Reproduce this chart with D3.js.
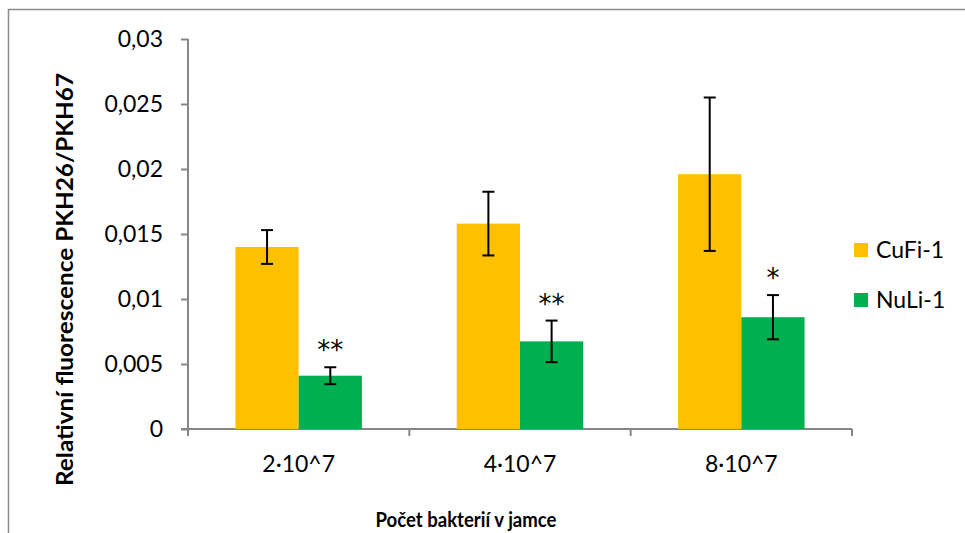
<!DOCTYPE html>
<html>
<head>
<meta charset="utf-8">
<script src="https://cdn.jsdelivr.net/npm/d3@7"></script>
<style>
  body { margin: 0; background: #fff; }
  svg { font-family: Lato, "Open Sans", sans-serif; }
</style>
</head>
<body>
<svg width="965" height="533"></svg>
<script>
// data
const categories = ["2·10^7", "4·10^7", "8·10^7"];
const seriesNames = ["CuFi-1", "NuLi-1"];
const cufiValues = [0.0140, 0.0158, 0.0196];
const cufiErrors = [0.0013, 0.00245, 0.0059];
const nuliValues = [0.0041, 0.00674, 0.0086];
const nuliErrors = [0.00065, 0.0016, 0.0017];
const stars = ["**", "**", "*"];
const yTicks = [0, 0.005, 0.01, 0.015, 0.02, 0.025, 0.03];

const colors = ["#FFC000", "#00B050"];
const axisColor = "#868686";

const svg = d3.select("svg");
const width = +svg.attr("width");
const height = +svg.attr("height");

// outer chart border
svg.append("rect")
  .attr("x", 8.5).attr("y", 9.5)
  .attr("width", width + 10).attr("height", height + 10)
  .attr("fill", "none")
  .attr("stroke", "#8c8c8c")
  .attr("stroke-width", 1.5);

const plot = { left: 188, right: 852, top: 39, bottom: 429 };

const y = d3.scaleLinear()
  .domain([0, 0.03])
  .range([plot.bottom, plot.top]);

const x = d3.scaleBand()
  .domain(categories)
  .range([plot.left, plot.right])
  .padding(0);

const xs = d3.scaleBand()
  .domain(seriesNames)
  .range([0, x.bandwidth()])
  .paddingInner(0)
  .paddingOuter(0.75);

const locale = d3.formatLocale({ decimal: ",", thousands: " ", grouping: [3], currency: ["", ""] });
const fmt = locale.format(".3~f");

// y axis
const yAxis = svg.append("g")
  .attr("transform", `translate(${plot.left},0)`)
  .call(d3.axisLeft(y).tickValues(yTicks).tickSize(7).tickPadding(18).tickFormat(fmt));
yAxis.select(".domain").attr("stroke", axisColor).attr("stroke-width", 2)
  .attr("d", `M0,${plot.top}V${plot.bottom}`);
yAxis.selectAll(".tick line").attr("stroke", axisColor).attr("stroke-width", 2);
yAxis.selectAll(".tick text")
  .attr("fill", "#000")
  .style("font-family", "Lato, sans-serif")
  .style("font-size", "23px");

// x axis (ticks between categories)
const xAxisG = svg.append("g")
  .attr("transform", `translate(0,${plot.bottom})`);
xAxisG.append("line")
  .attr("x1", plot.left - 7).attr("x2", plot.right)
  .attr("stroke", axisColor).attr("stroke-width", 2);
const boundaries = categories.map(c => x(c)).concat([plot.right]);
xAxisG.selectAll("line.tk")
  .data(boundaries)
  .enter().append("line")
  .attr("class", "tk")
  .attr("x1", d => d).attr("x2", d => d)
  .attr("y1", 0).attr("y2", 7)
  .attr("stroke", axisColor).attr("stroke-width", 2);
xAxisG.selectAll("text")
  .data(categories)
  .enter().append("text")
  .attr("x", d => x(d) + x.bandwidth() / 2)
  .attr("y", 43)
  .attr("text-anchor", "middle")
  .style("font-size", "23px")
  .text(d => d);

// bars
const rows = [];
categories.forEach((c, i) => {
  rows.push({ cat: c, s: seriesNames[0], v: cufiValues[i], e: cufiErrors[i], color: colors[0] });
  rows.push({ cat: c, s: seriesNames[1], v: nuliValues[i], e: nuliErrors[i], color: colors[1], star: stars[i] });
});

svg.append("g").selectAll("rect")
  .data(rows)
  .enter().append("rect")
  .attr("x", d => x(d.cat) + xs(d.s))
  .attr("y", d => y(d.v))
  .attr("width", xs.bandwidth())
  .attr("height", d => y(0) - y(d.v))
  .attr("fill", d => d.color);

// error bars
const err = svg.append("g").attr("stroke", "#000").attr("stroke-width", 2);
rows.forEach(d => {
  const cx = x(d.cat) + xs(d.s) + xs.bandwidth() / 2;
  const y1 = y(d.v + d.e), y2 = y(d.v - d.e);
  err.append("line").attr("x1", cx).attr("x2", cx).attr("y1", y1).attr("y2", y2);
  err.append("line").attr("x1", cx - 6).attr("x2", cx + 6).attr("y1", y1).attr("y2", y1);
  err.append("line").attr("x1", cx - 6).attr("x2", cx + 6).attr("y1", y2).attr("y2", y2);
});

// significance stars
svg.append("g").selectAll("text")
  .data(rows.filter(d => d.star))
  .enter().append("text")
  .attr("x", d => x(d.cat) + xs(d.s) + xs.bandwidth() / 2)
  .attr("y", d => y(d.v + d.e) - 8)
  .attr("text-anchor", "middle")
  .style("font-family", "'DejaVu Sans', sans-serif")
  .style("font-size", "26px")
  .text(d => d.star);

// axis titles
svg.append("text")
  .attr("transform", "translate(73,279.5) rotate(-90)")
  .attr("text-anchor", "middle")
  .attr("textLength", 413)
  .attr("lengthAdjust", "spacingAndGlyphs")
  .style("font-weight", "bold")
  .style("font-size", "23px")
  .text("Relativní fluorescence PKH26/PKH67");

svg.append("text")
  .attr("x", 466)
  .attr("y", 527)
  .attr("text-anchor", "middle")
  .attr("textLength", 181)
  .attr("lengthAdjust", "spacingAndGlyphs")
  .style("font-weight", "bold")
  .style("font-size", "21px")
  .text("Počet bakterií v jamce");

// legend
const legend = svg.append("g").attr("transform", "translate(854,243)");
const li = legend.selectAll("g")
  .data(seriesNames)
  .enter().append("g")
  .attr("transform", (d, i) => `translate(0,${i * 50})`);
li.append("rect")
  .attr("width", 14).attr("height", 14)
  .attr("fill", (d, i) => colors[i]);
li.append("text")
  .attr("x", 22).attr("y", 15)
  .style("font-size", "23px")
  .text(d => d);
</script>
</body>
</html>
